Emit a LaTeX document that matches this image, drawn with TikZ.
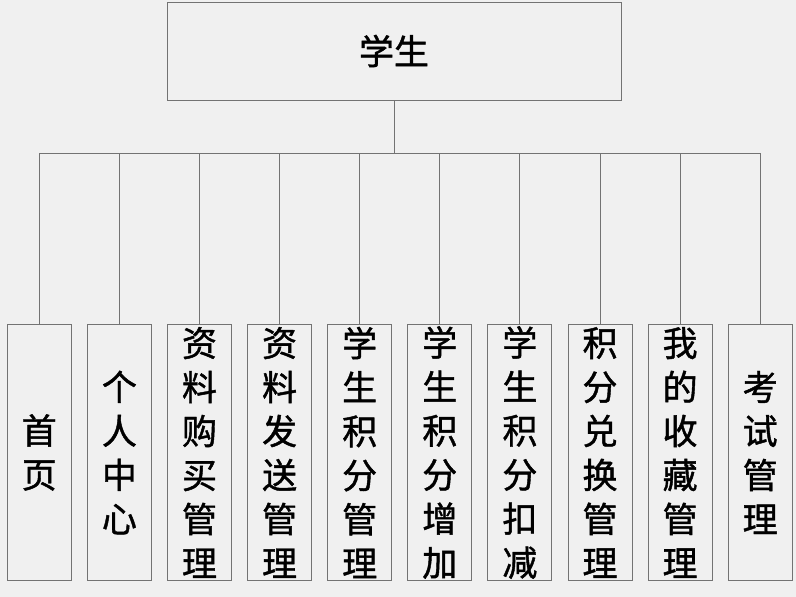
\documentclass[tikz,border=0pt]{standalone}
\usepackage{fontspec}
\newfontfamily\cjk{Noto Sans CJK SC}[FakeBold=1.2]
\definecolor{bggray}{RGB}{240,240,240}
\definecolor{linegray}{RGB}{115,115,115}
\begin{document}
\begin{tikzpicture}[x=1pt,y=-1pt,
  box/.style={draw=linegray,line width=0.9pt,fill=bggray,inner sep=0pt},
  leaf/.style={box,minimum width=64pt,minimum height=256pt},
  leaftext/.style={align=center,inner sep=0pt,font=\cjk\fontsize{35}{44}\selectfont}]
\pgfmathsetmacro{\dx}{80.1}
\fill[bggray] (0,0) rectangle (796,597);
\useasboundingbox (0,0) rectangle (796,597);
\node[box,minimum width=454pt,minimum height=98pt,font=\cjk\fontsize{35}{40}\selectfont] (root) at (394,51) {学生};
\coordinate (bus) at (394,153.5);
\draw[linegray,line width=0.9pt] (root.south)--(bus);
\foreach \t [count=\i] in {{首\\页},{个\\人\\中\\心},{资\\料\\购\\买\\管\\理},{资\\料\\发\\送\\管\\理},{学\\生\\积\\分\\管\\理},{学\\生\\积\\分\\增\\加},{学\\生\\积\\分\\扣\\减},{积\\分\\兑\\换\\管\\理},{我\\的\\收\\藏\\管\\理},{考\\试\\管\\理}}{
  \node[leaf] (c\i) at ({39.3+\dx*(\i-1)},452.5) {};
  \node[leaftext] (t\i) at (c\i) {\t};
  \draw[linegray,line width=0.9pt] (c\i.north)|-(bus);
}
\end{tikzpicture}
\end{document}
